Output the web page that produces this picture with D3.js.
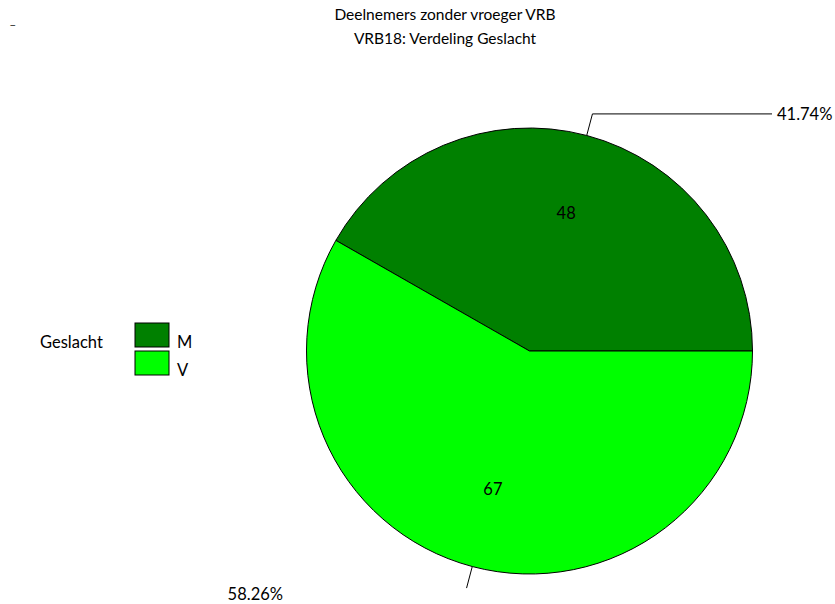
<!DOCTYPE html>
<html>
<head>
<meta charset="utf-8">
<script src="https://cdn.jsdelivr.net/npm/d3@7"></script>
<style>
  html, body { margin: 0; padding: 0; background: #fff; }
  svg { display: block; font-family: Lato, "Open Sans", sans-serif; }
</style>
</head>
<body>
<svg id="chart" width="835" height="604"></svg>
<script>
// Gender distribution of participants without earlier VRB
const categories = ["M", "V"];
const counts = [48, 67];
const percentLabels = ["41.74%", "58.26%"];
const colors = ["#008000", "#00ff00"];
const titleLines = ["Deelnemers zonder vroeger VRB", "VRB18: Verdeling Geslacht"];
const legendTitle = "Geslacht";

const svg = d3.select("#chart");
const cx = 529.5, cy = 351, r = 223;
const fs = 16.5;

// Title
svg.append("text").attr("x", 10).attr("y", 24).attr("font-size", 12).text("_");
svg.selectAll("text.title").data(titleLines).join("text")
  .attr("class", "title")
  .attr("x", 445).attr("y", (d, i) => 20 + i * 24)
  .attr("text-anchor", "middle")
  .attr("font-size", 15.5)
  .text(d => d);

// Pie: first slice starts at 3 o'clock and runs counter-clockwise
const pie = d3.pie().sort(null)
  .startAngle(Math.PI / 2)
  .endAngle(Math.PI / 2 - 2 * Math.PI);
const arcs = pie(counts);
const arc = d3.arc().innerRadius(0).outerRadius(r);
const labelArc = d3.arc().innerRadius(r * 0.64).outerRadius(r * 0.64);

const g = svg.append("g").attr("transform", `translate(${cx},${cy})`);
g.selectAll("path.slice").data(arcs).join("path")
  .attr("class", "slice")
  .attr("d", arc)
  .attr("fill", (d, i) => colors[i])
  .attr("stroke", "#000")
  .attr("stroke-width", 1);

g.selectAll("text.value").data(arcs).join("text")
  .attr("class", "value")
  .attr("transform", d => `translate(${labelArc.centroid(d)})`)
  .attr("text-anchor", "middle")
  .attr("dy", "0.35em")
  .attr("font-size", fs)
  .text((d, i) => counts[i]);

// Leader lines and percentage labels
const mid = d => (d.startAngle + d.endAngle) / 2;
const pt = (a, rad) => [Math.sin(a) * rad, -Math.cos(a) * rad];

// M: line out and across to the right
{
  const d = arcs[0], a = mid(d);
  const p0 = pt(a, r), p1 = pt(a, r * 1.1);
  const p2 = [772 - cx, p1[1]];
  g.append("polyline")
    .attr("points", [p0, p1, p2].map(p => p.join(",")).join(" "))
    .attr("fill", "none").attr("stroke", "#000").attr("stroke-width", 1);
  g.append("text")
    .attr("x", p2[0] + 5).attr("y", p2[1]).attr("dy", "0.35em")
    .attr("font-size", fs)
    .text(percentLabels[0]);
}
// V: short line outward, label placed to the lower left
{
  const d = arcs[1], a = mid(d);
  const p0 = pt(a, r), p1 = pt(a, r * 1.1);
  g.append("line")
    .attr("x1", p0[0]).attr("y1", p0[1]).attr("x2", p1[0]).attr("y2", p1[1])
    .attr("stroke", "#000").attr("stroke-width", 1);
  svg.append("text")
    .attr("x", 283).attr("y", 594).attr("dy", "0.35em")
    .attr("text-anchor", "end")
    .attr("font-size", fs)
    .text(percentLabels[1]);
}

// Legend
const legend = svg.append("g");
legend.append("text").attr("x", 40).attr("y", 342).attr("dy", "0.35em")
  .attr("font-size", fs).text(legendTitle);
const items = legend.selectAll("g.item").data(categories).join("g")
  .attr("class", "item")
  .attr("transform", (d, i) => `translate(135,${323 + i * 28})`);
items.append("rect").attr("width", 34).attr("height", 24)
  .attr("fill", (d, i) => colors[i]).attr("stroke", "#000").attr("stroke-width", 1);
items.append("text").attr("x", 42).attr("y", 19).attr("dy", "0.35em")
  .attr("font-size", fs).text(d => d);
</script>
</body>
</html>
